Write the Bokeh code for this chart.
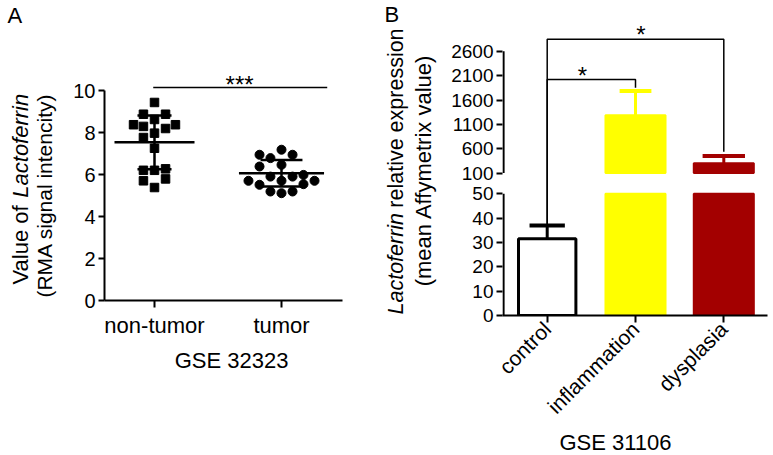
import math
from bokeh.plotting import figure
from bokeh.models import FixedTicker, Label, Range1d
from bokeh.layouts import row, column
from bokeh.embed import file_html
from bokeh.resources import INLINE

FONT = "Liberation Sans"

# ---------------- Panel A data (GSE 32323) ----------------
a_categories = ["non-tumor", "tumor"]
a_yticks = [0, 2, 4, 6, 8, 10]
nontumor_values = [9.43, 8.87, 8.87, 8.62, 8.37, 8.29, 8.19, 8.37, 7.97, 7.76,
                   7.25, 6.20, 6.20, 6.27, 5.70, 5.79, 5.38]
nontumor_jitter = [0.0, -0.087, 0.087, 0.0, -0.165, -0.087, 0.087, 0.165, 0.0, -0.087,
                   0.0, -0.087, 0.0, 0.087, -0.087, 0.087, 0.0]
tumor_values = [7.18, 6.94, 6.78, 6.94, 6.38, 6.46, 5.90, 5.90, 5.98, 5.70,
                5.70, 5.70, 5.51, 5.54, 5.19, 5.19, 5.11]
tumor_jitter = [0.0, -0.173, -0.087, 0.087, -0.173, 0.0, -0.087, 0.087, 0.173, -0.26,
                0.0, 0.26, -0.173, 0.173, -0.087, 0.087, 0.0]
a_means = [7.53, 6.06]
a_sds = [1.28, 0.63]
a_sig_level = 10.14
a_sig_label = "***"

# ---------------- Panel B data (GSE 31106) ----------------
b_categories = ["control", "inflammation", "dysplasia"]
b_means = [31.5, 1290, 300]
b_sems = [5.5, 496, 150]
b_colors = ["#FFFFFF", "#FFFF00", "#A30000"]
b_low_ticks = [0, 10, 20, 30, 40, 50]
b_high_ticks = [100, 600, 1100, 1600, 2100, 2600]
b_bracket_from = [0, 0]
b_bracket_to = [1, 2]
b_bracket_level = [2020, 2850]
b_bracket_drop = [1850, 540]
b_bracket_label = ["*", "*"]
b_bracket_label_x = [1.40, 2.06]

# broken-axis transform for panel B
LOW_TOP, HIGH_BOTTOM, HIGH_PER_UNIT, GAP = 50, 100, 50, 8.5


def yt(v):
    if v <= LOW_TOP:
        return v
    return LOW_TOP + GAP + (v - HIGH_BOTTOM) / HIGH_PER_UNIT


def style_common(p):
    p.outline_line_color = None
    p.xgrid.grid_line_color = None
    p.ygrid.grid_line_color = None
    p.background_fill_color = "white"
    p.border_fill_color = "white"
    for ax in (p.xaxis, p.yaxis):
        ax.axis_line_width = 2
        ax.axis_line_color = "black"
        ax.major_tick_line_width = 2
        ax.major_tick_line_color = "black"
        ax.major_tick_in = 0
        ax.minor_tick_out = 0
        ax.minor_tick_in = 0
        ax.major_label_text_font = FONT
        ax.major_label_text_color = "black"


def lab(p, x, y, text, size, angle=0.0, align="center", baseline="middle", style="normal"):
    p.add_layout(Label(x=x, y=y, text=text, angle=angle, text_align=align,
                       text_baseline=baseline, text_font=FONT,
                       text_font_size=f"{size}px", text_font_style=style,
                       text_color="black"))


def text_panel(w, h, x0, x1, ytop, ybot, border_bottom=0):
    """Blank figure for titles; data units equal page pixels (y grows downward)."""
    t = figure(width=w, height=h, x_range=Range1d(x0, x1), y_range=Range1d(ybot, ytop),
               output_backend="svg", toolbar_location=None,
               x_axis_location=None, y_axis_location=None,
               min_border_left=0, min_border_right=0,
               min_border_top=0, min_border_bottom=border_bottom)
    t.outline_line_color = None
    t.xgrid.grid_line_color = None
    t.ygrid.grid_line_color = None
    t.background_fill_color = "white"
    t.border_fill_color = "white"
    return t


# ================= Panel A =================
A_PX = 127.0   # px per x unit
A_PY = 21.0    # px per y unit
pa = figure(width=323, height=345, x_range=(1 - 50 / A_PX, 1 - 50 / A_PX + 238 / A_PX),
            y_range=(0, 300 / A_PY), output_backend="svg", toolbar_location=None,
            min_border_left=44, min_border_right=41, min_border_top=0, min_border_bottom=45)
style_common(pa)
pa.yaxis.ticker = FixedTicker(ticks=a_yticks)
pa.yaxis.bounds = (a_yticks[0], a_yticks[-1])
pa.yaxis.major_tick_out = 6
pa.yaxis.major_label_standoff = 3
pa.yaxis.major_label_text_font_size = "20px"
pa.xaxis.ticker = FixedTicker(ticks=[1, 2])
pa.xaxis.major_label_overrides = {i + 1: c for i, c in enumerate(a_categories)}
pa.xaxis.major_tick_out = 7
pa.xaxis.major_label_standoff = 5
pa.xaxis.major_label_text_font_size = "22px"

pa.scatter(x=[1 + j for j in nontumor_jitter], y=nontumor_values, marker="square",
           size=8.5, color="black")
pa.scatter(x=[2 + j for j in tumor_jitter], y=tumor_values, marker="circle",
           size=9, color="black")

mean_hw = [0.315, 0.335]
cap_hw = [0.134, 0.165]
for i, (m, s) in enumerate(zip(a_means, a_sds)):
    xc = i + 1
    pa.segment(x0=[xc - mean_hw[i]], x1=[xc + mean_hw[i]], y0=[m], y1=[m],
               line_width=2.5, color="black")
    pa.segment(x0=[xc], x1=[xc], y0=[m - s], y1=[m + s], line_width=2.5, color="black")
    pa.segment(x0=[xc - cap_hw[i], xc - cap_hw[i]], x1=[xc + cap_hw[i], xc + cap_hw[i]],
               y0=[m - s, m + s], y1=[m - s, m + s], line_width=2.5, color="black")

pa.segment(x0=[0.99], x1=[2.36], y0=[a_sig_level], y1=[a_sig_level],
           line_width=1.5, color="black")
lab(pa, 1.67, a_sig_level + 0.13, a_sig_label, 24)

# titles for panel A (frame aligned with pa's frame: page y 0..300)
ta = text_panel(60, 345, 0, 60, 0, 300, border_bottom=45)
lab(ta, 7, 14.5, "A", 22, align="left")
lab(ta, 19.5, 284, "Value of", 22, angle=math.pi / 2, align="left")
lab(ta, 19.5, 197.2, "Lactoferrin", 22, angle=math.pi / 2, align="left", style="italic")
lab(ta, 44.3, 195, "(RMA signal intencity)", 21, angle=math.pi / 2)
ba = text_panel(383, 110, 0, 383, 345, 455)
lab(ba, 231, 360, "GSE 32323", 22)

# ================= Panel B =================
B_PX = 88.3
B_PY = 2.45
bx0 = 1 + (502 - 546.7) / B_PX
pb = figure(width=333, height=428, x_range=(bx0, bx0 + 265 / B_PX),
            y_range=(0, 317 / B_PY), output_backend="svg", toolbar_location=None,
            min_border_left=62, min_border_right=6, min_border_top=0, min_border_bottom=111)
style_common(pb)
ticks_b = b_low_ticks + [yt(v) for v in b_high_ticks]
pb.yaxis.ticker = FixedTicker(ticks=ticks_b)
ov = {t: str(t) for t in b_low_ticks}
ov.update({yt(v): str(v) for v in b_high_ticks})
pb.yaxis.major_label_overrides = ov
pb.yaxis.axis_line_color = None
pb.yaxis.major_tick_out = 6
pb.yaxis.major_label_standoff = 3
pb.yaxis.major_label_text_font_size = "19px"
pb.xaxis.ticker = FixedTicker(ticks=[1, 2, 3])
pb.xaxis.major_label_overrides = {i + 1: c for i, c in enumerate(b_categories)}
pb.xaxis.major_label_orientation = math.pi / 4
pb.xaxis.major_tick_out = 7
pb.xaxis.major_label_standoff = 3
pb.xaxis.major_label_text_font_size = "21px"

# broken y-axis line
xa = bx0 + 1.0 / B_PX
pb.segment(x0=[xa, xa], x1=[xa, xa], y0=[0, yt(b_high_ticks[0])],
           y1=[b_low_ticks[-1], yt(b_high_ticks[-1])], line_width=2.2, color="black")

cap_b = [0.2, 0.18, 0.24]
for i, (m, s, c) in enumerate(zip(b_means, b_sems, b_colors)):
    xc = i + 1
    edge = "black" if c == "#FFFFFF" else c
    if m <= LOW_TOP:
        pb.vbar(x=[xc], width=0.65, bottom=[0], top=[yt(m)], fill_color=c,
                line_color=edge, line_width=3)
    else:
        pb.vbar(x=[xc], width=0.68, bottom=[0], top=[LOW_TOP], fill_color=c,
                line_color=edge, line_width=2)
        pb.vbar(x=[xc], width=0.68, bottom=[yt(HIGH_BOTTOM)], top=[yt(m)], fill_color=c,
                line_color=edge, line_width=2)
    pb.segment(x0=[xc], x1=[xc], y0=[yt(m)], y1=[yt(m + s)], line_width=3, color=edge)
    pb.segment(x0=[xc - cap_b[i]], x1=[xc + cap_b[i]], y0=[yt(m + s)], y1=[yt(m + s)],
               line_width=4, color=edge)

for k in range(len(b_bracket_level)):
    i0, i1 = b_bracket_from[k], b_bracket_to[k]
    start = b_means[i0] + b_sems[i0]
    lvl = b_bracket_level[k]
    pb.line(x=[i0 + 1, i0 + 1, i1 + 1, i1 + 1],
            y=[yt(start), yt(lvl), yt(lvl), yt(b_bracket_drop[k])],
            line_width=1.5, color="black")
    lab(pb, b_bracket_label_x[k], yt(lvl) + 1.8, b_bracket_label[k], 24)

# titles for panel B (frame aligned with pb's frame: page y 0..317)
tb = text_panel(57, 428, 383, 440, 0, 317, border_bottom=111)
lab(tb, 384, 14.5, "B", 22, align="left")
lab(tb, 395, 316, "Lactoferrin", 21.5, angle=math.pi / 2, align="left", style="italic")
lab(tb, 395, 208.5, "relative expression", 21.5, angle=math.pi / 2, align="left")
lab(tb, 423, 171, "(mean Affymetrix value)", 22, angle=math.pi / 2)
bb = text_panel(390, 27, 383, 773, 428, 455)
lab(bb, 615, 441.5, "GSE 31106", 22)

layout = row(column(row(ta, pa), ba), column(row(tb, pb), bb))
open("out.html", "w").write(file_html(layout, INLINE))
